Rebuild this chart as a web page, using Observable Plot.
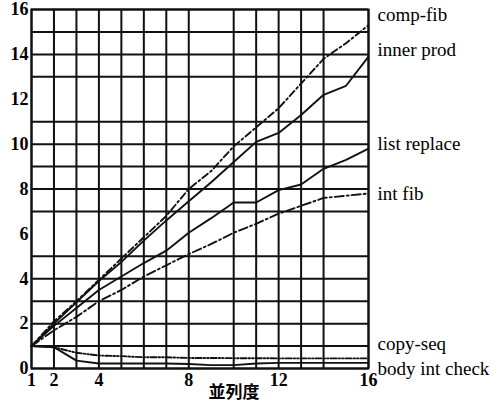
<!DOCTYPE html>
<html>
<head>
<meta charset="utf-8">
<script src="https://cdn.jsdelivr.net/npm/d3@7"></script>
<script src="https://cdn.jsdelivr.net/npm/@observablehq/plot@0.6"></script>
<style>
  html, body { margin: 0; padding: 0; background: #fff; }
</style>
</head>
<body>
<div id="chart"></div>
<script>
// Parallelism (x) values
const xs = [1, 2, 3, 4, 5, 6, 7, 8, 9, 10, 11, 12, 13, 14, 15, 16];

// Speed-up series
const compFib      = [1, 2.1, 3.0, 3.95, 4.9, 5.85, 6.8, 8.0, 8.8, 9.9, 10.75, 11.6, 12.7, 13.8, 14.5, 15.3];
const innerProd    = [1, 2.0, 2.95, 3.9, 4.75, 5.7, 6.6, 7.45, 8.3, 9.2, 10.1, 10.5, 11.3, 12.2, 12.6, 13.9];
const listReplace  = [1, 1.9, 2.7, 3.5, 4.1, 4.7, 5.25, 6.05, 6.7, 7.4, 7.4, 7.95, 8.2, 8.9, 9.3, 9.8];
const intFib       = [1, 1.7, 2.3, 3.0, 3.5, 4.1, 4.6, 5.1, 5.55, 6.05, 6.45, 6.9, 7.25, 7.6, 7.7, 7.8];
const copySeq      = [1, 0.95, 0.7, 0.58, 0.55, 0.5, 0.5, 0.47, 0.47, 0.46, 0.46, 0.45, 0.45, 0.45, 0.45, 0.45];
const bodyIntCheck = [1, 0.95, 0.35, 0.22, 0.22, 0.22, 0.22, 0.2, 0.15, 0.15, 0.22, 0.25, 0.25, 0.25, 0.25, 0.25];

const seriesNames = ["comp-fib", "inner prod", "list replace", "int fib", "copy-seq", "body int check"];
const seriesValues = [compFib, innerProd, listReplace, intFib, copySeq, bodyIntCheck];
const seriesDash = ["7,3,2,3", null, null, "9,3,2,3", "6,2,1.5,2,1.5,2", null];
// label anchor values (y, in data units) at right edge
const labelY = [15.75, 14.2, 10.0, 7.8, 1.1, 0.0];

// Hand-drawn grid lines and tick labels
const gridX = [1, 2, 3, 4, 5, 6, 7, 8, 10, 11, 12, 13, 14, 16];
const gridY = [0, 1, 2, 3, 4, 5, 7, 8, 9, 10, 11, 13, 14, 15, 16];
const xTicks = [1, 2, 4, 8, 12, 16];
const yTicks = [0, 2, 4, 6, 8, 10, 12, 14, 16];
const xTitle = "並列度";

const serif = "'Liberation Serif', 'DejaVu Serif', serif";

const lineMarks = seriesNames.map((name, i) =>
  Plot.line(xs.map((x, j) => ({x, y: seriesValues[i][j]})), {
    x: "x", y: "y",
    stroke: "#111",
    strokeWidth: 1.9,
    strokeDasharray: seriesDash[i] || undefined
  })
);

const chart = Plot.plot({
  width: 495,
  height: 409,
  marginLeft: 31,
  marginRight: 127,
  marginTop: 9,
  marginBottom: 41,
  x: {domain: [1, 16]},
  y: {domain: [0, 16]},
  style: {background: "#fff", color: "#000", fontFamily: serif},
  marks: [
    Plot.ruleX(gridX, {stroke: "#111", strokeWidth: 2}),
    Plot.ruleY(gridY, {stroke: "#111", strokeWidth: 2}),
    ...lineMarks,
    Plot.frame({stroke: "#111", strokeWidth: 2}),
    Plot.axisX({ticks: xTicks, tickSize: 0, tickPadding: 5, fontSize: 18, fontFamily: serif, fontWeight: "bold", label: null}),
    Plot.axisY({ticks: yTicks, tickSize: 0, tickPadding: 3, fontSize: 18, fontFamily: serif, fontWeight: "bold", label: null}),
    Plot.text(seriesNames.map((n, i) => ({n, y: labelY[i]})), {
      x: () => 16, y: "y", text: "n", dx: 9, textAnchor: "start",
      fontSize: 19, fontFamily: serif, fill: "#000"
    }),
    Plot.text([xTitle], {
      frameAnchor: "bottom", dx: 34, dy: 29, fontSize: 17, fontWeight: "bold",
      fontFamily: "'Noto Sans CJK JP', 'Noto Sans CJK SC', sans-serif", fill: "#000"
    })
  ]
});

document.getElementById("chart").appendChild(chart);
</script>
</body>
</html>
